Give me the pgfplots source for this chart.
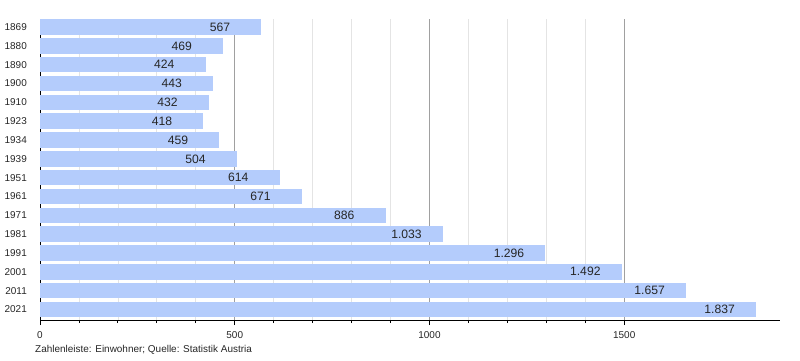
\documentclass[border=0pt]{standalone}
\usepackage{fontspec}
\setmainfont{Liberation Sans}
\usepackage{pgfplots}
\pgfplotsset{compat=1.18}
\definecolor{barblue}{RGB}{180,204,252}
\definecolor{majgrid}{RGB}{160,160,160}
\definecolor{mingrid}{RGB}{228,228,228}
\begin{document}
\begin{tikzpicture}[x=1bp,y=1bp]
\useasboundingbox (0,0) rectangle (800,360);
\begin{axis}[
  at={(40bp,40bp)}, anchor=south west,
  scale only axis, width=740bp, height=301bp,
  xbar, bar width=14.5bp,
  xmin=0, xmax=1900,
  ymin=-0.425, ymax=15.56, y dir=reverse,
  axis x line*=bottom, axis y line*=left,
  axis line style={black, line width=0.8bp, -},
  xtick={0,500,1000,1500},
  minor x tick num=4,
  xmajorgrids, xminorgrids,
  major grid style={majgrid, line width=0.7bp},
  minor grid style={mingrid, line width=0.7bp},
  xtick align=outside,
  major tick length=5bp, minor tick length=3bp,
  tick style={black, line width=0.8bp},
  ytick={0,...,15},
  yticklabels={1869,1880,1890,1900,1910,1923,1934,1939,1951,1961,1971,1981,1991,2001,2011,2021},
  ytick style={draw=none},
  /pgf/number format/assume math mode=true,
  scaled x ticks=false,
  xticklabel={\pgfmathprintnumber[1000 sep={}]{\tick}},
  xticklabel style={font=\fontsize{10}{12}\selectfont, inner sep=0pt, yshift=-6bp, text=black!85},
  yticklabel style={font=\fontsize{10}{12}\selectfont, inner sep=0pt, xshift=-8bp, text=black!85},
  point meta=x,
  nodes near coords={\pgfmathprintnumber[1000 sep={.}, assume math mode=true]{\pgfplotspointmeta}},
  nodes near coords style={anchor=west, xshift=-51bp, inner sep=0pt, font=\fontsize{12.2}{14}\selectfont, text=black!85},
  clip=false,
]
\addplot[fill=barblue, draw=barblue, line width=0pt] coordinates {
(567,0) (469,1) (424,2) (443,3) (432,4) (418,5) (459,6) (504,7)
(614,8) (671,9) (886,10) (1033,11) (1296,12) (1492,13) (1657,14) (1837,15)
};
\end{axis}
\node[anchor=base west, inner sep=0pt, font=\fontsize{10}{12}\selectfont, text=black!85] at (35,7.5) {Zahlenleiste: Einwohner; Quelle: Statistik Austria};
\end{tikzpicture}
\end{document}
